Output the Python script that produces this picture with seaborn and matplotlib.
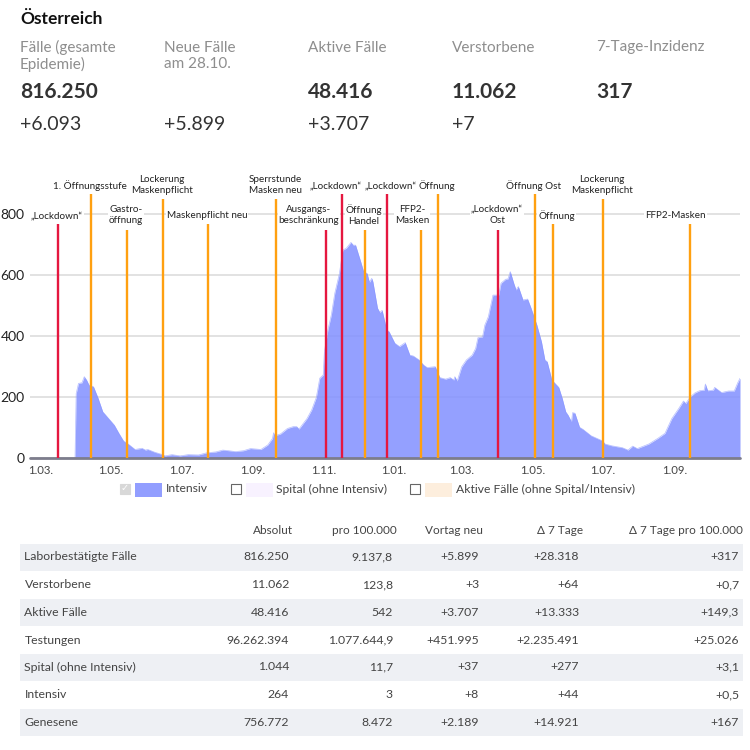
import pandas as pd
import matplotlib
matplotlib.use("Agg")
import matplotlib.pyplot as plt
import seaborn as sns
from matplotlib.patches import Rectangle

# === Data ===
dates = [
    "2020-03-31", "2020-04-01", "2020-04-03", "2020-04-06", "2020-04-08", "2020-04-10", "2020-04-12", "2020-04-16",
    "2020-04-20", "2020-04-24", "2020-04-29", "2020-05-04", "2020-05-08", "2020-05-12", "2020-05-16", "2020-05-22",
    "2020-05-28", "2020-05-31", "2020-06-02", "2020-06-08", "2020-06-14", "2020-06-17", "2020-06-23", "2020-06-30",
    "2020-07-07", "2020-07-16", "2020-07-23", "2020-07-31", "2020-08-06", "2020-08-11", "2020-08-17", "2020-08-24",
    "2020-08-30", "2020-09-08", "2020-09-14", "2020-09-18", "2020-09-19", "2020-09-20", "2020-09-25", "2020-10-01",
    "2020-10-06", "2020-10-09", "2020-10-11", "2020-10-18", "2020-10-22", "2020-10-26", "2020-10-29", "2020-11-01",
    "2020-11-02", "2020-11-05", "2020-11-08", "2020-11-11", "2020-11-15", "2020-11-18", "2020-11-21", "2020-11-25",
    "2020-11-27", "2020-11-29", "2020-12-03", "2020-12-06", "2020-12-09", "2020-12-11", "2020-12-13", "2020-12-14",
    "2020-12-18", "2020-12-20", "2020-12-22", "2020-12-26", "2020-12-28", "2021-01-02", "2021-01-06", "2021-01-11",
    "2021-01-15", "2021-01-18", "2021-01-23", "2021-01-27", "2021-01-30", "2021-02-06", "2021-02-10", "2021-02-15",
    "2021-02-19", "2021-02-22", "2021-02-23", "2021-02-25", "2021-03-01", "2021-03-05", "2021-03-10", "2021-03-13",
    "2021-03-15", "2021-03-19", "2021-03-21", "2021-03-24", "2021-03-28", "2021-04-02", "2021-04-04", "2021-04-08",
    "2021-04-10", "2021-04-12", "2021-04-15", "2021-04-17", "2021-04-19", "2021-04-23", "2021-04-27", "2021-04-30",
    "2021-05-05", "2021-05-09", "2021-05-12", "2021-05-14", "2021-05-18", "2021-05-24", "2021-05-27", "2021-05-30",
    "2021-06-01", "2021-06-04", "2021-06-05", "2021-06-07", "2021-06-11", "2021-06-14", "2021-06-21", "2021-07-01",
    "2021-07-03", "2021-07-09", "2021-07-18", "2021-07-23", "2021-07-27", "2021-07-31", "2021-08-10", "2021-08-18",
    "2021-08-24", "2021-08-30", "2021-09-05", "2021-09-09", "2021-09-11", "2021-09-15", "2021-09-19", "2021-09-23",
    "2021-09-27", "2021-09-28", "2021-09-30", "2021-10-05", "2021-10-06", "2021-10-12", "2021-10-18", "2021-10-23",
    "2021-10-26", "2021-10-28",
]
intensiv = [
    0, 211, 244, 246, 266, 255, 239, 233,
    195, 151, 129, 107, 80, 55, 45, 27,
    31, 25, 27, 18, 11, 6, 10, 6,
    10, 9, 16, 19, 25, 23, 20, 23,
    30, 27, 42, 63, 82, 72, 78, 96,
    102, 102, 94, 129, 157, 198, 261, 272,
    348, 419, 469, 540, 605, 682, 688, 707,
    698, 698, 649, 611, 605, 576, 589, 578,
    491, 477, 484, 419, 414, 376, 365, 378,
    337, 334, 321, 304, 296, 299, 263, 258,
    263, 255, 266, 252, 299, 321, 337, 359,
    394, 397, 436, 463, 534, 534, 573, 586,
    587, 611, 573, 551, 562, 518, 521, 491,
    436, 381, 321, 315, 255, 231, 195, 151,
    140, 118, 148, 146, 100, 93, 72, 55,
    45, 39, 33, 25, 38, 30, 45, 64,
    80, 129, 162, 186, 178, 200, 213, 220,
    222, 242, 220, 222, 231, 214, 219, 219,
    246, 261,
]

tick_dates = ["2020-03-01", "2020-05-01", "2020-07-01", "2020-09-01", "2020-11-01", "2021-01-01",
              "2021-03-01", "2021-05-01", "2021-07-01", "2021-09-01"]
tick_labels = ["1.03.", "1.05.", "1.07.", "1.09.", "1.11.", "1.01.", "1.03.", "1.05.", "1.07.", "1.09."]

event_dates = ["2020-03-16", "2020-04-14", "2020-05-15", "2020-06-15", "2020-07-24", "2020-09-21", "2020-11-03",
               "2020-11-17", "2020-12-07", "2020-12-26", "2021-01-25", "2021-02-08", "2021-04-01", "2021-05-03",
               "2021-05-19", "2021-07-01", "2021-09-15"]
event_labels = ["„Lockdown“", "1. Öffnungsstufe", "Gastro-\nöffnung", "Lockerung\nMaskenpflicht", "Maskenpflicht neu",
                "Sperrstunde\nMasken neu", "Ausgangs-\nbeschränkung", "„Lockdown“", "Öffnung\nHandel", "„Lockdown“",
                "FFP2-\nMasken", "Öffnung", "„Lockdown“\nOst", "Öffnung Ost", "Öffnung", "Lockerung\nMaskenpflicht",
                "FFP2-Masken"]
event_kinds = ["lock", "open", "open", "open", "open", "open", "lock", "lock", "open", "lock",
               "open", "open", "lock", "open", "open", "open", "open"]

head_labels = ["Fälle (gesamte\nEpidemie)", "Neue Fälle\nam 28.10.", "Aktive Fälle", "Verstorbene", "7-Tage-Inzidenz"]
head_values = ["816.250", "", "48.416", "11.062", "317"]
head_deltas = ["+6.093", "+5.899", "+3.707", "+7", ""]

table_rows = ["Laborbestätigte Fälle", "Verstorbene", "Aktive Fälle", "Testungen", "Spital (ohne Intensiv)",
              "Intensiv", "Genesene"]
table_heads = ["Absolut", "pro 100.000", "Vortag neu", "Δ 7 Tage", "Δ 7 Tage pro 100.000"]
absolut = ["816.250", "11.062", "48.416", "96.262.394", "1.044", "264", "756.772"]
pro_100k = ["9.137,8", "123,8", "542", "1.077.644,9", "11,7", "3", "8.472"]
vortag = ["+5.899", "+3", "+3.707", "+451.995", "+37", "+8", "+2.189"]
delta_7 = ["+28.318", "+64", "+13.333", "+2.235.491", "+277", "+44", "+14.921"]
delta_7_100k = ["+317", "+0,7", "+149,3", "+25.026", "+3,1", "+0,5", "+167"]

# === Layout in pixels ===
event_tops = [767, 865, 748, 849, 767, 849, 748, 865, 748, 865, 748, 865, 748, 865, 767, 849, 767]
label_x = [57, 90, 126, 162, 207, 275.5, 309, 336, 364, 391, 412, 436.7, 497, 534, 556.7, 602, 675.7]
label_y = [215.7, 186, 215, 185, 215.7, 185, 215, 186, 215, 186, 215, 186, 215, 186, 215.7, 185, 215.7]
head_x = [20, 164, 308, 452, 596]
col_right = [289, 393, 479, 579, 739]
row_y = [557, 584.6, 612, 640, 667, 694.6, 722]

AREA = "#8492ff"
RED = "#e5173f"
ORANGE = "#ffa010"
DARK = "#333333"
GREY = "#8e8e8e"

sns.set_theme(style="white")
plt.rcParams["font.family"] = ["Lato", "DejaVu Sans"]

df = pd.DataFrame({"date": pd.to_datetime(dates), "intensiv": intensiv})

fig = plt.figure(figsize=(7.5, 7.5), dpi=100)

# === Chart ===
top_val = 880
y0_px, px_per_unit = 457.7, 60.9 / 200
ax_top = y0_px - top_val * px_per_unit
ax = fig.add_axes([30 / 750, 1 - y0_px / 750, 710 / 750, (y0_px - ax_top) / 750])
ax.set_axisbelow(True)
ax.grid(axis="y", color="#e2e2e2", linewidth=1.4)
ax.fill_between(df["date"], df["intensiv"], 0, color=AREA, alpha=0.87, linewidth=0, zorder=2)
sns.lineplot(data=df, x="date", y="intensiv", color=AREA, alpha=0.6, linewidth=0.5, ax=ax, zorder=2)
ax.axhline(0, color="#7d7d8c", linewidth=2, zorder=3, clip_on=False)

for d, kind, top in zip(event_dates, event_kinds, event_tops):
    ax.vlines(pd.Timestamp(d), 0, top, color=RED if kind == "lock" else ORANGE, linewidth=1.7, zorder=4)

ax.set_xlim(pd.Timestamp("2020-02-21"), pd.Timestamp("2021-10-28"))
ax.set_ylim(0, top_val)
ax.set_xticks(pd.to_datetime(tick_dates))
ax.set_xticklabels(tick_labels, fontsize=8.2, color="#444444")
ax.set_yticks([0, 200, 400, 600, 800])
ax.tick_params(axis="y", length=0, pad=4, labelsize=10, labelcolor="#222222")
ax.tick_params(axis="x", length=0, pad=5)
ax.set_xlabel("")
ax.set_ylabel("")
sns.despine(ax=ax, left=True, bottom=True)

# === Text overlay, pixel coordinates ===
ov = fig.add_axes([0, 0, 1, 1], zorder=5)
ov.set_xlim(0, 750)
ov.set_ylim(750, 0)
ov.axis("off")
ov.patch.set_alpha(0)

# labels sit inside the chart axes so their white boxes cut the grid but not the event lines
for label, x, y in zip(event_labels, label_x, label_y):
    ax.text(x, y, label, ha="center", va="center", fontsize=7.1, color="#222222", linespacing=1.3,
            transform=ov.transData, clip_on=False, zorder=3.5,
            bbox=dict(facecolor="white", edgecolor="none", pad=0.8))

# header
ov.text(20, 19.5, "Österreich", fontsize=12.5, fontweight="bold", color="#111111", va="center")
for x, lab, val, delta in zip(head_x, head_labels, head_values, head_deltas):
    ov.text(x, 56 if "\n" in lab else 47.5, lab, fontsize=11, color=GREY, va="center", linespacing=1.2)
    ov.text(x, 92, val, fontsize=15, fontweight="bold", color=DARK, va="center")
    ov.text(x, 124, delta, fontsize=14, color=DARK, va="center")

# legend
legend_items = [(125, "#929eff", "Intensiv", True), (235.5, "#f8f2ff", "Spital (ohne Intensiv)", False),
                (415, "#fdeedd", "Aktive Fälle (ohne Spital/Intensiv)", False)]
for x, color, lab, checked in legend_items:
    ov.add_patch(Rectangle((x - 5, 483.5), 10, 10, facecolor="#d8d8d8" if checked else "white",
                           edgecolor="#d8d8d8" if checked else "#666666", linewidth=0.8))
    if checked:
        ov.text(x, 488.5, "✓", ha="center", va="center", fontsize=7, color="white", family="DejaVu Sans")
    ov.add_patch(Rectangle((x + 10, 482.7), 27, 14, facecolor=color, edgecolor="none"))
    ov.text(x + 41, 489, lab, fontsize=8.7, color="#444444", va="center")

# table
for y in row_y[::2]:
    ov.add_patch(Rectangle((20, y - 13.5), 723, 27, facecolor="#eef0f4", edgecolor="none"))
for x, head in zip(col_right, table_heads):
    ov.text(x + 4, 530, head, ha="right", va="center", fontsize=8.5, color="#444444")
for y, lab in zip(row_y, table_rows):
    ov.text(24.5, y, lab, va="center", fontsize=8.8, color="#444444")
for x, col in zip(col_right, [absolut, pro_100k, vortag, delta_7, delta_7_100k]):
    for y, val in zip(row_y, col):
        ov.text(x, y, val, ha="right", va="center", fontsize=8.8, color="#444444")

fig.savefig("out.png", dpi=100, facecolor="white")
plt.close(fig)
